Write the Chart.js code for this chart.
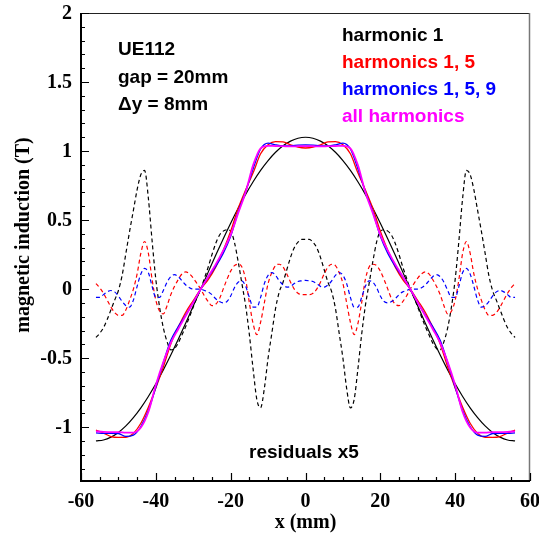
<!DOCTYPE html>
<html>
<head>
<meta charset="utf-8">
<script src="https://cdn.jsdelivr.net/npm/chart.js@4.4.0/dist/chart.umd.min.js"></script>
<style>
  html, body { margin: 0; padding: 0; background: #fff; }
  #wrap { width: 539px; height: 539px; }
</style>
</head>
<body>
<div id="wrap"><canvas id="fieldChart" width="539" height="539"></canvas></div>
<script>
// --- data ---
const xSolid = [-56, -54, -52, -50, -48, -46, -44, -42, -40, -38, -36, -34, -32, -30, -28, -26, -24, -22, -20, -18, -16, -14, -12, -10, -8, -6, -4, -2, 0,
    2, 4, 6, 8, 10, 12, 14, 16, 18, 20, 22, 24, 26, 28, 30, 32, 34, 36, 38, 40, 42, 44, 46, 48, 50, 52, 54, 56];

const harm1 = [-1.100, -1.093, -1.072, -1.038, -0.991, -0.931, -0.860, -0.778, -0.686, -0.585, -0.477, -0.363, -0.245, -0.123, 0.000,
    0.123, 0.245, 0.363, 0.477, 0.585, 0.686, 0.778, 0.860, 0.931, 0.991, 1.038, 1.072, 1.093, 1.100,
    1.093, 1.072, 1.038, 0.991, 0.931, 0.860, 0.778, 0.686, 0.585, 0.477, 0.363, 0.245, 0.123, 0.000,
    -0.123, -0.245, -0.363, -0.477, -0.585, -0.686, -0.778, -0.860, -0.931, -0.991, -1.038, -1.072, -1.093, -1.100];

const harm15 = [-1.022, -1.043, -1.068, -1.074, -1.073, -1.045, -0.972, -0.856, -0.716, -0.565, -0.397, -0.275, -0.168, -0.083, 0.000,
    0.069, 0.159, 0.279, 0.419, 0.585, 0.718, 0.842, 0.980, 1.045, 1.068, 1.066, 1.045, 1.028, 1.022,
    1.028, 1.045, 1.066, 1.068, 1.045, 0.980, 0.842, 0.718, 0.585, 0.419, 0.279, 0.159, 0.069, 0.000,
    -0.083, -0.168, -0.275, -0.397, -0.565, -0.716, -0.856, -0.972, -1.045, -1.073, -1.074, -1.068, -1.043, -1.022];

const harm159 = [-1.042, -1.045, -1.044, -1.046, -1.067, -1.058, -0.995, -0.880, -0.712, -0.533, -0.371, -0.271, -0.187, -0.097, 0.000,
    0.087, 0.165, 0.259, 0.383, 0.559, 0.706, 0.872, 1.015, 1.058, 1.045, 1.038, 1.038, 1.043, 1.045,
    1.043, 1.038, 1.038, 1.045, 1.058, 1.015, 0.872, 0.706, 0.559, 0.383, 0.259, 0.165, 0.087, 0.000,
    -0.097, -0.187, -0.271, -0.371, -0.533, -0.712, -0.880, -0.995, -1.058, -1.067, -1.046, -1.044, -1.045, -1.042];

const harmAll = [-1.030, -1.034, -1.036, -1.036, -1.040, -1.040, -1.003, -0.890, -0.695, -0.529, -0.389, -0.289, -0.193, -0.097, 0.000,
    0.091, 0.179, 0.279, 0.393, 0.549, 0.702, 0.898, 1.020, 1.038, 1.036, 1.035, 1.034, 1.035, 1.036,
    1.035, 1.034, 1.035, 1.036, 1.038, 1.020, 0.898, 0.702, 0.549, 0.393, 0.279, 0.179, 0.091, 0.000,
    -0.097, -0.193, -0.289, -0.389, -0.529, -0.695, -0.890, -1.003, -1.040, -1.040, -1.036, -1.036, -1.034, -1.030];

const xRes = [-56, -55, -54, -53, -52, -51, -50, -49, -48, -47, -46, -45, -44, -43, -42, -41, -40, -39, -38, -37, -36, -35, -34, -33, -32, -31, -30, -29,
    -28, -27, -26, -25, -24, -23, -22, -21, -20, -19, -18, -17, -16, -15, -14, -13, -12, -11, -10, -9, -8, -7, -6, -5, -4, -3, -2, -1, 0,
    1, 2, 3, 4, 5, 6, 7, 8, 9, 10, 11, 12, 13, 14, 15, 16, 17, 18, 19, 20, 21, 22, 23, 24, 25, 26, 27, 28,
    29, 30, 31, 32, 33, 34, 35, 36, 37, 38, 39, 40, 41, 42, 43, 44, 45, 46, 47, 48, 49, 50, 51, 52, 53, 54, 55, 56];

// residuals x5 (dashed)
const resHarm1 = [-0.35, -0.32, -0.28, -0.22, -0.15, -0.08, -0.01, 0.10, 0.26, 0.42, 0.57, 0.72, 0.83, 0.86, 0.66, 0.35, 0.07, -0.13, -0.28, -0.38,
    -0.44, -0.43, -0.39, -0.33, -0.27, -0.20, -0.13, -0.06, 0.00, 0.08, 0.16, 0.25, 0.33, 0.39, 0.42, 0.43, 0.42, 0.34, 0.20, 0.04,
    -0.12, -0.33, -0.58, -0.80, -0.86, -0.72, -0.50, -0.32, -0.14, -0.02, 0.05, 0.14, 0.23, 0.30, 0.34, 0.36, 0.36,
    0.36, 0.34, 0.30, 0.23, 0.14, 0.05, -0.02, -0.14, -0.32, -0.50, -0.72, -0.86, -0.80, -0.58, -0.33, -0.12, 0.04, 0.20, 0.34, 0.42,
    0.43, 0.42, 0.39, 0.33, 0.25, 0.16, 0.08, 0.00, -0.06, -0.13, -0.20, -0.27, -0.33, -0.39, -0.43, -0.44, -0.38, -0.28, -0.13, 0.07,
    0.35, 0.66, 0.86, 0.83, 0.72, 0.57, 0.42, 0.26, 0.10, -0.01, -0.08, -0.15, -0.22, -0.28, -0.32, -0.35];

const resHarm15 = [0.04, 0.01, -0.03, -0.08, -0.13, -0.17, -0.19, -0.19, -0.15, -0.08, 0.00, 0.11, 0.26, 0.345, 0.26, 0.07, -0.08, -0.16, -0.18, -0.12,
    -0.04, 0.02, 0.07, 0.11, 0.125, 0.11, 0.08, 0.04, 0.00, -0.05, -0.09, -0.12, -0.11, -0.07, 0.00, 0.07, 0.13, 0.17, 0.18, 0.16,
    0.07, -0.10, -0.25, -0.33, -0.24, -0.10, 0.04, 0.12, 0.17, 0.18, 0.16, 0.11, 0.05, 0.00, -0.03, -0.04, -0.04,
    -0.04, -0.03, 0.00, 0.05, 0.11, 0.16, 0.18, 0.17, 0.12, 0.04, -0.10, -0.24, -0.33, -0.25, -0.10, 0.07, 0.16, 0.18, 0.17, 0.13,
    0.07, 0.00, -0.07, -0.11, -0.12, -0.09, -0.05, 0.00, 0.04, 0.08, 0.11, 0.125, 0.11, 0.07, 0.02, -0.04, -0.12, -0.18, -0.16, -0.08,
    0.07, 0.26, 0.345, 0.26, 0.11, 0.00, -0.08, -0.15, -0.19, -0.19, -0.17, -0.13, -0.08, -0.03, 0.01, 0.04];

const resHarm159 = [-0.06, -0.06, -0.04, -0.02, -0.01, -0.02, -0.05, -0.09, -0.12, -0.13, -0.08, 0.02, 0.11, 0.15, 0.12, 0.02, -0.06, -0.06, -0.01, 0.05,
    0.09, 0.105, 0.09, 0.06, 0.03, 0.01, 0.00, 0.00, 0.00, -0.01, -0.02, -0.04, -0.07, -0.09, -0.10, -0.09, -0.05, 0.01, 0.05, 0.06,
    0.02, -0.06, -0.13, -0.13, -0.06, 0.04, 0.10, 0.12, 0.10, 0.06, 0.03, 0.015, 0.02, 0.04, 0.055, 0.06, 0.063,
    0.06, 0.055, 0.04, 0.02, 0.015, 0.03, 0.06, 0.10, 0.12, 0.10, 0.04, -0.06, -0.13, -0.13, -0.06, 0.02, 0.06, 0.05, 0.01, -0.05,
    -0.09, -0.10, -0.09, -0.07, -0.04, -0.02, -0.01, 0.00, 0.00, 0.00, 0.01, 0.03, 0.06, 0.09, 0.105, 0.09, 0.05, -0.01, -0.06, -0.06,
    0.02, 0.12, 0.15, 0.11, 0.02, -0.08, -0.13, -0.12, -0.09, -0.05, -0.02, -0.01, -0.02, -0.04, -0.06, -0.06];

// axis ticks and labels
const xTickValues = [-60, -40, -20, 0, 20, 40, 60];
const xTickLabels = ['-60', '-40', '-20', '0', '20', '40', '60'];
const yTickValues = [-1, -0.5, 0, 0.5, 1, 1.5, 2];
const yTickLabels = ['-1', '-0.5', '0', '0.5', '1', '1.5', '2'];

const legendLabels = ['harmonic 1', 'harmonics 1, 5', 'harmonics 1, 5, 9', 'all harmonics'];
const legendColors = ['#000000', '#ff0000', '#0000ff', '#ff00ff'];
const infoLines = ['UE112', 'gap = 20mm', '\u0394y = 8mm'];

const SERIF = '"Liberation Serif", "Times New Roman", serif';
const SANS = '"Liberation Sans", Arial, Helvetica, sans-serif';

function pts(xs, ys) {
    return xs.map((x, i) => ({ x: x, y: ys[i] }));
}

function solid(label, xs, ys, color, width, order) {
    return {
        label: label,
        data: pts(xs, ys),
        borderColor: color,
        borderWidth: width,
        pointRadius: 0,
        fill: false,
        cubicInterpolationMode: 'monotone',
        order: order
    };
}

function dashed(label, xs, ys, color, order) {
    return {
        label: label,
        data: pts(xs, ys),
        borderColor: color,
        borderWidth: 1.2,
        borderDash: [4, 3],
        pointRadius: 0,
        fill: false,
        cubicInterpolationMode: 'monotone',
        order: order
    };
}

// frame, inward ticks, labels and texts
const axisFrame = {
    id: 'axisFrame',
    afterDatasetsDraw(chart) {
        const { ctx, chartArea: a, scales } = chart;
        const xs = scales.x, ys = scales.y;
        ctx.save();

        // top and right border
        ctx.lineWidth = 1;
        ctx.strokeStyle = '#222';
        ctx.beginPath();
        ctx.moveTo(a.left, a.top + 0.5);
        ctx.lineTo(a.right, a.top + 0.5);
        ctx.stroke();
        ctx.strokeStyle = '#777';
        ctx.lineWidth = 1.5;
        ctx.beginPath();
        ctx.moveTo(a.right - 0.5, a.top);
        ctx.lineTo(a.right - 0.5, a.bottom);
        ctx.stroke();

        // left and bottom axes
        ctx.strokeStyle = '#000';
        ctx.lineWidth = 2;
        ctx.beginPath();
        ctx.moveTo(a.left, a.top);
        ctx.lineTo(a.left, a.bottom);
        ctx.lineTo(a.right, a.bottom);
        ctx.stroke();

        // x ticks (every 5, major every 20)
        ctx.lineWidth = 1.2;
        ctx.beginPath();
        for (let v = -60; v <= 60; v += 5) {
            const px = Math.round(xs.getPixelForValue(v)) + 0.5;
            const len = (v % 20 === 0) ? 8 : 4;
            ctx.moveTo(px, a.bottom);
            ctx.lineTo(px, a.bottom - len);
        }
        // y ticks (every 0.1, major every 0.5)
        for (let i = -13; i <= 20; i++) {
            const py = Math.round(ys.getPixelForValue(i / 10)) + 0.5;
            const len = (i % 5 === 0) ? 8 : 4;
            ctx.moveTo(a.left, py);
            ctx.lineTo(a.left + len, py);
        }
        ctx.stroke();

        // tick labels
        ctx.fillStyle = '#000';
        ctx.font = 'bold 20px ' + SERIF;
        ctx.textAlign = 'center';
        ctx.textBaseline = 'alphabetic';
        xTickValues.forEach((v, i) => {
            ctx.fillText(xTickLabels[i], xs.getPixelForValue(v), 507);
        });
        ctx.textAlign = 'right';
        ctx.textBaseline = 'middle';
        yTickValues.forEach((v, i) => {
            ctx.fillText(yTickLabels[i], 72, ys.getPixelForValue(v) + 1);
        });

        // axis titles
        ctx.textAlign = 'center';
        ctx.textBaseline = 'alphabetic';
        ctx.fillText('x (mm)', xs.getPixelForValue(0), 528);
        ctx.save();
        ctx.translate(29, 235);
        ctx.rotate(-Math.PI / 2);
        ctx.fillText('magnetic induction (T)', 0, 0);
        ctx.restore();

        // info block and legend
        ctx.font = 'bold 19px ' + SANS;
        ctx.textAlign = 'left';
        const infoY = [55, 83, 110];
        infoLines.forEach((t, i) => ctx.fillText(t, 118, infoY[i]));

        const legY = [41, 68, 95, 122];
        legendLabels.forEach((t, i) => {
            ctx.fillStyle = legendColors[i];
            ctx.fillText(t, 342, legY[i]);
        });

        ctx.fillStyle = '#000';
        ctx.fillText('residuals x5', 249, 458);

        ctx.restore();
    }
};

const ctx = document.getElementById('fieldChart');

new Chart(ctx, {
    type: 'line',
    data: {
        datasets: [
            solid('all harmonics', xSolid, harmAll, '#ff00ff', 1.8, 0),
            solid('harmonics 1, 5, 9', xSolid, harm159, '#0000ff', 1.3, 1),
            solid('harmonics 1, 5', xSolid, harm15, '#ff0000', 1.3, 2),
            solid('harmonic 1', xSolid, harm1, '#000000', 1.2, 3),
            dashed('residual 1, 5, 9', xRes, resHarm159, '#0000ff', 4),
            dashed('residual 1, 5', xRes, resHarm15, '#ff0000', 5),
            dashed('residual 1', xRes, resHarm1, '#000000', 6)
        ]
    },
    options: {
        responsive: false,
        animation: false,
        devicePixelRatio: 1,
        layout: { padding: { top: 13, right: 9, left: 0, bottom: 0 } },
        plugins: {
            legend: { display: false },
            tooltip: { enabled: false }
        },
        scales: {
            x: {
                type: 'linear',
                min: -60,
                max: 60,
                ticks: { display: false },
                grid: { display: false },
                border: { display: false },
                afterFit: (scale) => { scale.height = 58; }
            },
            y: {
                type: 'linear',
                min: -1.39,
                max: 2,
                ticks: { display: false },
                grid: { display: false },
                border: { display: false },
                afterFit: (scale) => { scale.width = 81; }
            }
        }
    },
    plugins: [axisFrame]
});
</script>
</body>
</html>
